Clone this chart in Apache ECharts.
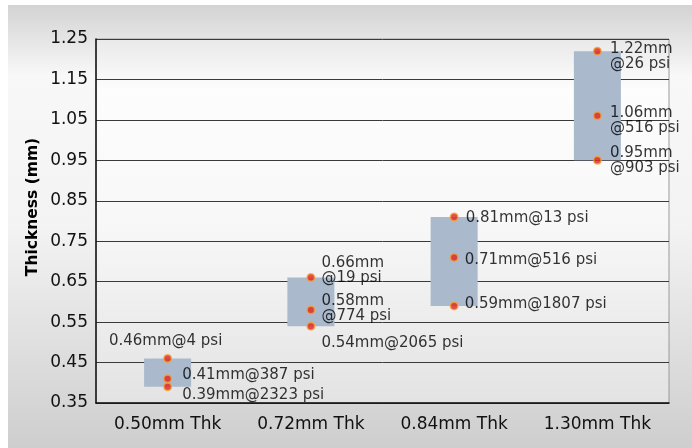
<!DOCTYPE html>
<html>
<head>
<meta charset="utf-8">
<script src="https://cdn.jsdelivr.net/npm/echarts@6/dist/echarts.min.js"></script>
<style>
html,body{margin:0;padding:0;background:#fff;}
#c{width:692px;height:448px;}
</style>
</head>
<body>
<div id="c"></div>
<script>
var categories = ['0.50mm Thk', '0.72mm Thk', '0.84mm Thk', '1.30mm Thk'];
var rangeLow  = [0.39, 0.54, 0.59, 0.95];
var rangeHigh = [0.46, 0.66, 0.81, 1.22];
var thick050 = [0.46, 0.41, 0.39];
var psi050   = [4, 387, 2323];
var thick072 = [0.66, 0.58, 0.54];
var psi072   = [19, 774, 2065];
var thick084 = [0.81, 0.71, 0.59];
var psi084   = [13, 516, 1807];
var thick130 = [1.22, 1.06, 0.95];
var psi130   = [26, 516, 903];
var yTicks = [0.35, 0.45, 0.55, 0.65, 0.75, 0.85, 0.95, 1.05, 1.15, 1.25];

var thickAll = [thick050, thick072, thick084, thick130];
var psiAll = [psi050, psi072, psi084, psi130];

// label layout (style only)
var labelLayout = [
  [{pos:'top', dist:5, off:[-2,0], wrap:false},
   {pos:'right', dist:10, off:[0,-4], wrap:false},
   {pos:'right', dist:10, off:[0,8], wrap:false}],
  [{pos:'right', dist:6, off:[0,-7], wrap:true},
   {pos:'right', dist:6, off:[0,-1], wrap:true},
   {pos:'right', dist:6, off:[0,17], wrap:false}],
  [{pos:'right', dist:7, off:[0,1], wrap:false},
   {pos:'right', dist:6, off:[0,3], wrap:false},
   {pos:'right', dist:6, off:[0,-2], wrap:false}],
  [{pos:'right', dist:8, off:[0,5], wrap:true},
   {pos:'right', dist:8, off:[0,5], wrap:true},
   {pos:'right', dist:8, off:[0,0], wrap:true}]
];

var pts = [];
for (var c = 0; c < categories.length; c++) {
  for (var k = 0; k < thickAll[c].length; k++) {
    var L = labelLayout[c][k];
    var txt = thickAll[c][k].toFixed(2) + 'mm' + (L.wrap ? '\n' : '') + '@' + psiAll[c][k] + ' psi';
    pts.push({
      value: [categories[c], thickAll[c][k]],
      label: {show: true, position: L.pos, distance: L.dist, offset: L.off, formatter: txt}
    });
  }
}
var rangeSize = rangeHigh.map(function (h, i) { return +(h - rangeLow[i]).toFixed(4); });

var FONT = 'DejaVu Sans';
var chart = echarts.init(document.getElementById('c'), null, {renderer: 'canvas'});
chart.setOption({
  animation: false,
  backgroundColor: '#ffffff',
  graphic: [
    {type: 'rect', z: -10, shape: {x: 8, y: 5, width: 684, height: 443},
     style: {fill: new echarts.graphic.LinearGradient(0, 0, 0, 1, [
       {offset: 0, color: '#d3d3d3'}, {offset: 0.16, color: '#f8f8f8'},
       {offset: 0.5, color: '#f3f3f3'}, {offset: 1, color: '#cecece'}])}},
    {type: 'text', x: 33, y: 207, rotation: Math.PI / 2, z: 10,
     style: {text: 'Thickness (mm)', font: 'bold 15.5px "DejaVu Sans"', fill: '#000',
       align: 'center', verticalAlign: 'middle'}}
  ],
  grid: {left: 96, right: 23, top: 39, bottom: 45, show: true,
    backgroundColor: new echarts.graphic.LinearGradient(0, 0, 0, 1, [
      {offset: 0, color: '#e9e9e9'}, {offset: 0.14, color: '#fdfdfd'},
      {offset: 0.5, color: '#f8f8f8'}, {offset: 1, color: '#e3e3e3'}]),
    borderColor: '#9a9a9a', borderWidth: 1},
  xAxis: {
    type: 'category', data: categories,
    axisLine: {lineStyle: {color: '#111', width: 1.5}},
    axisTick: {show: false},
    axisLabel: {color: '#111', fontFamily: FONT, fontSize: 17, margin: 13},
    splitLine: {show: false}
  },
  yAxis: {
    type: 'value', min: 0.35, max: 1.25, interval: 0.1,
    axisLine: {show: true, lineStyle: {color: '#111', width: 1.5}},
    axisTick: {show: false},
    axisLabel: {color: '#111', fontFamily: FONT, fontSize: 17, margin: 8,
      formatter: function (v) { return v.toFixed(2); }},
    splitLine: {show: true, lineStyle: {color: '#3a3a3a', width: 1}}
  },
  series: [
    {type: 'bar', stack: 'r', data: rangeLow, barWidth: 47,
     itemStyle: {color: 'rgba(0,0,0,0)'}, silent: true},
    {type: 'bar', stack: 'r', data: rangeSize, barWidth: 47,
     itemStyle: {color: '#aab9cc'}},
    {type: 'scatter', data: pts, symbolSize: 7.5, z: 5,
     itemStyle: {color: '#e0241c', borderColor: '#f6a236', borderWidth: 1.5},
     label: {color: '#000', fontFamily: FONT, fontSize: 15, lineHeight: 15}}
  ]
});
</script>
</body>
</html>
